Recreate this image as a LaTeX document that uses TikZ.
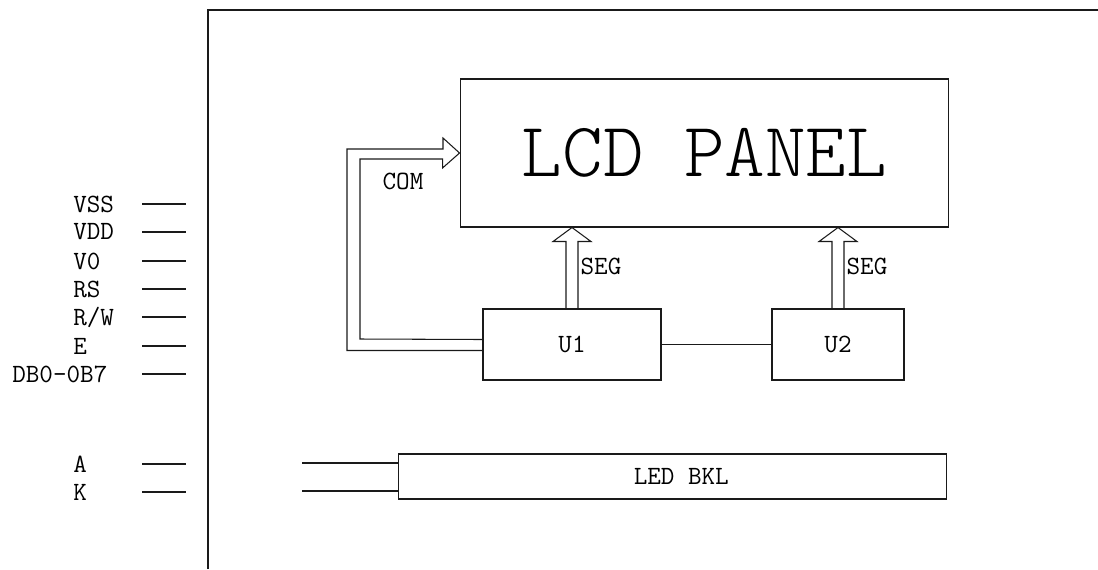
\documentclass[tikz,border=0pt]{standalone}
\usepackage{tikz}
\usetikzlibrary{calc}
\definecolor{lcdline}{HTML}{1A1A1A}

\tikzset{
  blk/.style={draw=lcdline, line width=0.6pt, inner sep=0pt},
  arw/.style={draw=lcdline, line width=0.6pt},
  lbl/.style={font=\ttfamily\fontsize{15}{15}\selectfont, inner sep=0pt},
}

\begin{document}
\begin{tikzpicture}[x=0.02cm, y=-0.02cm]
  \useasboundingbox (0,0) rectangle (1098,569);
  % frame
  \draw[arw] (208,569) |- (1098,10);
  % blocks
  \node[blk, minimum width=9.78cm, minimum height=2.96cm] (lcd) at (704.5,153)
    {\ttfamily\fontseries{l}\fontsize{44}{44}\selectfont LCD PANEL};
  \node[blk, lbl, minimum width=3.56cm, minimum height=1.42cm] (u1) at (572,344.5) {U1};
  \node[blk, lbl, minimum width=2.64cm, minimum height=1.42cm] (u2) at (838,344.5) {U2};
  \node[blk, lbl, minimum width=10.98cm, minimum height=0.9cm] (led) at (672.5,476.5) {\hspace{0.35cm}LED BKL};
  \draw[arw] (u1.east) -- (u2.west);
  % COM bus
  \draw[arw] ($(u1.west)+(0,6)$) -| (347,149) -- ++(96,0) -- ++(0,-11) -- (lcd.west)
    -- ++(-17,15) -- ++(0,-9) -| (360,339) -- ($(u1.west)+(0,-5)$);
  \node[lbl] (com) at (403,181) {COM};
  % SEG buses
  \foreach \u in {u1,u2} {
    \draw[arw] ($(\u.north)+(-6,0)$) -- ($(\u.north |- lcd.south)+(-6,14)$) -- ++(-13,0)
      -- (\u.north |- lcd.south) -- ++(19,14) -- ++(-13,0) -- ($(\u.north)+(6,0)$);
    \node[lbl] (seg-\u) at ($(\u.north)+(29,-42)$) {SEG};
  }
  % pins
  \foreach \n/\t/\x/\y in {vss/VSS/73/204, vdd/VDD/73/232, vo/V0/73/261, rs/RS/73/289,
      rw/{R/W}/73/317, e/E/73/346, db/DB0-0B7/12/374, a/A/73/464, k/K/73/492} {
    \node[lbl, anchor=west] (\n) at (\x,\y) {\t};
    \draw[arw] (142,\y) -- (186,\y);
  }
  % backlight leads
  \draw[arw] ($(led.west)+(0,-13.5)$) -- ++(-96,0) coordinate (la);
  \draw[arw] ($(led.west)+(0,14.5)$) -- ++(-96,0) coordinate (lk);
\end{tikzpicture}
\end{document}
